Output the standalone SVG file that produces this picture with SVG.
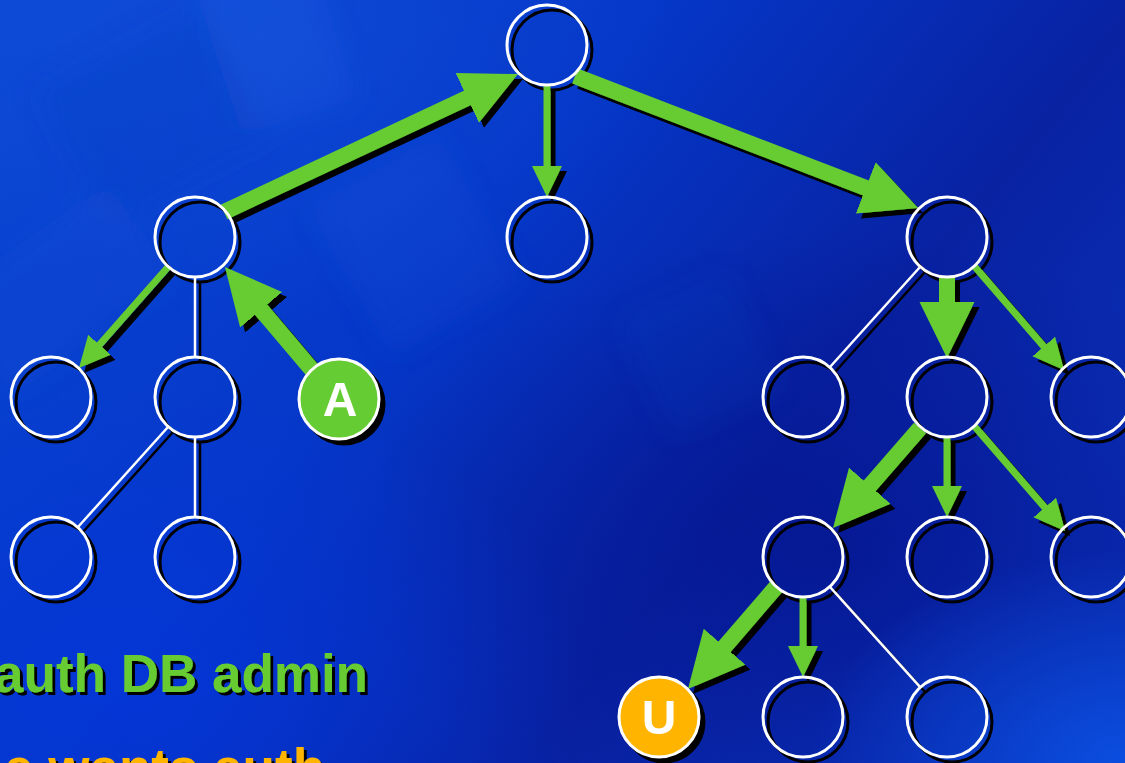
<svg xmlns="http://www.w3.org/2000/svg" width="1125" height="763" viewBox="0 0 1125 763">
  <defs>
    <style>
      .ring { fill: none; stroke: #ffffff; stroke-width: 3; }
      .thick { fill: none; stroke: #66cc33; stroke-width: 16; marker-end: url(#headThick); }
      .thin { fill: none; stroke: #66cc33; stroke-width: 7; marker-end: url(#headThin); }
      .link { fill: none; stroke: #ffffff; stroke-width: 2.5; }
      .lbl { font-family: "Liberation Sans", Arial, sans-serif; font-weight: bold; }
      .badge { font-size: 48px; fill: #ffffff; text-anchor: middle; }
      .caption { font-size: 53px; }
    </style>

    <!-- arrowheads: base sits on the line end, tip points forward -->
    <marker id="headThick" markerUnits="userSpaceOnUse" viewBox="0 -28 56 56" markerWidth="56" markerHeight="56" refX="1" refY="0" orient="auto">
      <path d="M0,-27.5 L56,0 L0,27.5 Z" fill="#66cc33"/>
    </marker>
    <marker id="headThin" markerUnits="userSpaceOnUse" viewBox="0 -16 31 32" markerWidth="31" markerHeight="32" refX="1" refY="0" orient="auto">
      <path d="M0,-15 L31,0 L0,15 Z" fill="#66cc33"/>
    </marker>

    <!-- hard black drop shadows -->
    <filter id="drop" filterUnits="userSpaceOnUse" x="0" y="0" width="1125" height="763">
      <feOffset in="SourceAlpha" dx="5" dy="5" result="s"/>
      <feMerge><feMergeNode in="s"/><feMergeNode in="SourceGraphic"/></feMerge>
    </filter>
    <filter id="dropOnly" filterUnits="userSpaceOnUse" x="0" y="0" width="1125" height="763">
      <feOffset in="SourceAlpha" dx="5" dy="5"/>
    </filter>
    <filter id="textDrop" filterUnits="userSpaceOnUse" x="-20" y="0" width="1145" height="800">
      <feOffset in="SourceAlpha" dx="3" dy="3" result="s"/>
      <feMerge><feMergeNode in="s"/><feMergeNode in="SourceGraphic"/></feMerge>
    </filter>
    <filter id="soft" filterUnits="userSpaceOnUse" x="-200" y="-200" width="1525" height="1163">
      <feGaussianBlur stdDeviation="14"/>
    </filter>

    <!-- background -->
    <linearGradient id="bgBase" x1="0" y1="0" x2="1" y2="0.55">
      <stop offset="0" stop-color="#0a48d4"/>
      <stop offset="0.45" stop-color="#0537c8"/>
      <stop offset="0.78" stop-color="#0822a2"/>
      <stop offset="1" stop-color="#0a2db4"/>
    </linearGradient>
    <radialGradient id="bgDark" cx="0.74" cy="0.72" r="0.42">
      <stop offset="0" stop-color="#04138c" stop-opacity="0.7"/>
      <stop offset="1" stop-color="#04138c" stop-opacity="0"/>
    </radialGradient>
    <radialGradient id="bgCorner" cx="1" cy="1" r="0.28">
      <stop offset="0" stop-color="#0b50e2" stop-opacity="0.95"/>
      <stop offset="1" stop-color="#0b50e2" stop-opacity="0"/>
    </radialGradient>
    <radialGradient id="bgLeft" cx="0.12" cy="0.9" r="0.4">
      <stop offset="0" stop-color="#0436da" stop-opacity="0.8"/>
      <stop offset="1" stop-color="#0436da" stop-opacity="0"/>
    </radialGradient>
    <radialGradient id="bgGlow" cx="0.22" cy="0.05" r="0.38">
      <stop offset="0" stop-color="#1f5ee6" stop-opacity="0.3"/>
      <stop offset="1" stop-color="#1f5ee6" stop-opacity="0"/>
    </radialGradient>
  </defs>

  <g id="background">
    <rect width="1125" height="763" fill="url(#bgBase)"/>
    <rect width="1125" height="763" fill="url(#bgDark)"/>
    <rect width="1125" height="763" fill="url(#bgCorner)"/>
    <rect width="1125" height="763" fill="url(#bgLeft)"/>
    <rect width="1125" height="763" fill="url(#bgGlow)"/>
    <g filter="url(#soft)">
      <rect x="215" y="-40" width="120" height="160" fill="#3a78ee" opacity="0.12" transform="rotate(-18 275 40)"/>
      <rect x="60" y="40" width="190" height="150" fill="#0a3cc0" opacity="0.25" transform="rotate(-28 155 115)"/>
      <rect x="340" y="160" width="150" height="170" fill="#3f7cf0" opacity="0.08" transform="rotate(-30 415 245)"/>
      <rect x="640" y="290" width="120" height="130" fill="#2a62e0" opacity="0.08" transform="rotate(-25 700 355)"/>
      <rect x="-40" y="230" width="200" height="120" fill="#2f6ee8" opacity="0.08" transform="rotate(-35 60 290)"/>
    </g>
  </g>

  <!-- shadows cast by the node rings -->
  <use href="#nodes" filter="url(#dropOnly)"/>

  <g id="connectors" filter="url(#drop)">
    <!-- plain tree edges -->
    <line class="link" x1="195" y1="277" x2="195" y2="357"/>
    <line class="link" x1="168" y1="427" x2="78" y2="527"/>
    <line class="link" x1="195" y1="437" x2="195" y2="517"/>
    <line class="link" x1="920" y1="267" x2="830" y2="367"/>
    <line class="link" x1="830" y1="587" x2="920" y2="687"/>

    <!-- thin green arrows -->
    <line class="thin" x1="547" y1="86" x2="547" y2="167"/>
    <line class="thin" x1="168" y1="267" x2="98.8" y2="345.5"/>
    <line class="thin" x1="975" y1="267" x2="1044.4" y2="347.3"/>
    <line class="thin" x1="947" y1="437" x2="947" y2="487"/>
    <line class="thin" x1="975" y1="427" x2="1045.4" y2="508.3"/>
    <line class="thin" x1="803" y1="597" x2="803" y2="647"/>

    <!-- thick green arrows -->
    <line class="thick" x1="224" y1="212" x2="468.2" y2="97.4"/>
    <line class="thick" x1="575" y1="76" x2="866.7" y2="188.2"/>
    <line class="thick" x1="313" y1="371" x2="260.5" y2="309"/>
    <line class="thick" x1="947" y1="277" x2="947" y2="303"/>
    <line class="thick" x1="920" y1="428" x2="869.1" y2="486.5"/>
    <line class="thick" x1="776" y1="587" x2="723.9" y2="647.4"/>
  </g>

  <g id="nodes">
    <g id="n-root"><circle class="ring" cx="547" cy="45" r="40"/></g>
    <g id="n-l1-left"><circle class="ring" cx="195" cy="237" r="40"/></g>
    <g id="n-l1-mid"><circle class="ring" cx="547" cy="237" r="40"/></g>
    <g id="n-l1-right"><circle class="ring" cx="947" cy="237" r="40"/></g>
    <g id="n-l2-a"><circle class="ring" cx="51" cy="397" r="40"/></g>
    <g id="n-l2-b"><circle class="ring" cx="195" cy="397" r="40"/></g>
    <g id="n-A">
      <circle cx="339" cy="399" r="40" fill="#66cc33" stroke="#ffffff" stroke-width="3"/>
      <text class="lbl badge" x="340" y="416">A</text>
    </g>
    <g id="n-l2-c"><circle class="ring" cx="803" cy="397" r="40"/></g>
    <g id="n-l2-d"><circle class="ring" cx="947" cy="397" r="40"/></g>
    <g id="n-l2-e"><circle class="ring" cx="1091" cy="397" r="40"/></g>
    <g id="n-l3-a"><circle class="ring" cx="51" cy="557" r="40"/></g>
    <g id="n-l3-b"><circle class="ring" cx="195" cy="557" r="40"/></g>
    <g id="n-l3-c"><circle class="ring" cx="803" cy="557" r="40"/></g>
    <g id="n-l3-d"><circle class="ring" cx="947" cy="557" r="40"/></g>
    <g id="n-l3-e"><circle class="ring" cx="1091" cy="557" r="40"/></g>
    <g id="n-U">
      <circle cx="659" cy="717" r="40" fill="#ffb400" stroke="#ffffff" stroke-width="3"/>
      <text class="lbl badge" x="659" y="734">U</text>
    </g>
    <g id="n-l4-b"><circle class="ring" cx="803" cy="717" r="40"/></g>
    <g id="n-l4-c"><circle class="ring" cx="947" cy="717" r="40"/></g>
  </g>

  <g id="captions" filter="url(#textDrop)">
    <text class="lbl caption" x="368" y="692" text-anchor="end" fill="#66cc33">auth DB admin</text>
    <text class="lbl caption" x="4" y="786" fill="#ffb400">e wants auth</text>
  </g>
</svg>
